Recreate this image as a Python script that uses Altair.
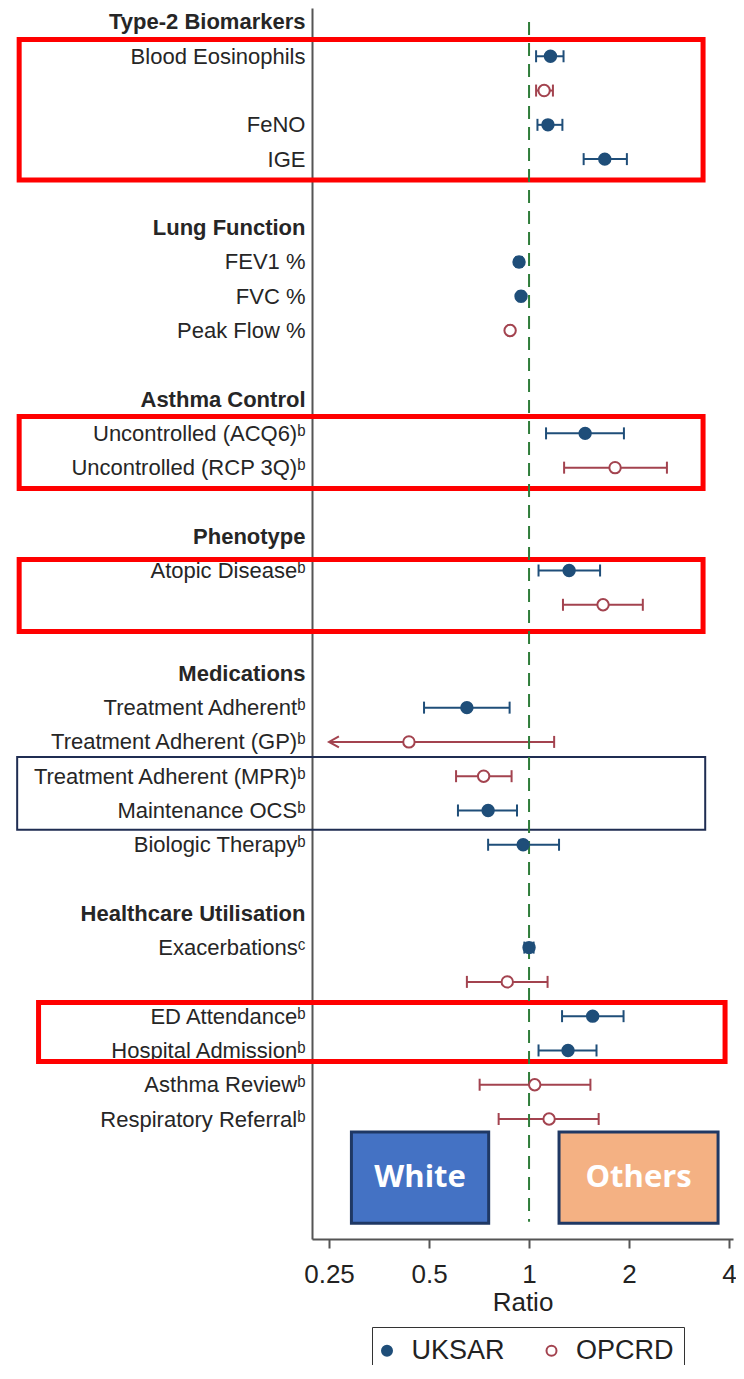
import altair as alt
import pandas as pd

# ---------------- data ----------------
row_labels = [
    "Type-2 Biomarkers", "Blood Eosinophils", "", "FeNO", "IGE", "",
    "Lung Function", "FEV1 %", "FVC %", "Peak Flow %", "",
    "Asthma Control", "Uncontrolled (ACQ6)", "Uncontrolled (RCP 3Q)", "",
    "Phenotype", "Atopic Disease", "", "",
    "Medications", "Treatment Adherent", "Treatment Adherent (GP)",
    "Treatment Adherent (MPR)", "Maintenance OCS", "Biologic Therapy", "",
    "Healthcare Utilisation", "Exacerbations", "", "ED Attendance",
    "Hospital Admission", "Asthma Review", "Respiratory Referral",
]
row_sup = [
    "", "", "", "", "", "",
    "", "", "", "", "",
    "", "b", "b", "",
    "", "b", "", "",
    "", "b", "b", "b", "b", "b", "",
    "", "c", "", "b", "b", "b", "b",
]
header_rows = [0, 6, 11, 15, 19, 26]

sources = ["UKSAR", "OPCRD"]

uksar_rows = [1, 3, 4, 7, 8, 12, 16, 20, 23, 24, 27, 29, 30]
uksar_est = [1.16, 1.14, 1.69, 0.933, 0.946, 1.475, 1.32, 0.65, 0.753, 0.96, 1.00, 1.554, 1.31]
uksar_lo = [1.05, 1.06, 1.46, 0.915, 0.93, 1.125, 1.068, 0.483, 0.611, 0.753, 0.968, 1.257, 1.068]
uksar_hi = [1.27, 1.26, 1.97, 0.952, 0.962, 1.93, 1.636, 0.874, 0.92, 1.231, 1.032, 1.925, 1.596]

opcrd_rows = [2, 9, 13, 17, 21, 22, 28, 31, 32]
opcrd_est = [1.11, 0.877, 1.815, 1.67, 0.435, 0.73, 0.86, 1.04, 1.149]
opcrd_lo = [1.05, 0.865, 1.275, 1.265, 0.25, 0.603, 0.65, 0.71, 0.81]
opcrd_hi = [1.18, 0.89, 2.60, 2.20, 1.19, 0.886, 1.137, 1.53, 1.62]
opcrd_arrow = [False, False, False, False, True, False, False, False, False]

x_ticks = [0.25, 0.5, 1, 2, 4]

# ---------------- tables ----------------
pts = pd.concat([
    pd.DataFrame({"source": "UKSAR", "row": uksar_rows, "est": uksar_est,
                  "lo": uksar_lo, "hi": uksar_hi, "arrow": False}),
    pd.DataFrame({"source": "OPCRD", "row": opcrd_rows, "est": opcrd_est,
                  "lo": opcrd_lo, "hi": opcrd_hi, "arrow": opcrd_arrow}),
], ignore_index=True)

caps = pd.concat([
    pts[~pts["arrow"]][["source", "row", "lo"]].rename(columns={"lo": "cx"}),
    pts[["source", "row", "hi"]].rename(columns={"hi": "cx"}),
], ignore_index=True)
arrows = pts[pts["arrow"]]

ref_line = pd.DataFrame({"v": [1.0], "r0": [0.0], "r1": [35.0]})

# annotation boxes (in data units: ratio on x, row index on y)
red_boxes = pd.DataFrame({
    "x0": [0.0292, 0.0292, 0.0292, 0.0334],
    "x1": [3.34, 3.34, 3.34, 3.89],
    "y0": [0.51, 11.51, 15.68, 28.60],
    "y1": [4.61, 13.61, 17.78, 30.32],
})
blue_box = pd.DataFrame({"x0": [0.0288], "x1": [3.39], "y0": [21.44], "y1": [23.56]})
group_boxes = pd.DataFrame({
    "name": ["White", "Others"],
    "x0": [0.292, 1.231], "x1": [0.756, 3.706],
    "y0": [32.38, 32.38], "y1": [35.04, 35.04],
    "xc": [0.470, 2.136], "yc": [33.72, 33.72],
})

# ---------------- styling ----------------
FONT = "Liberation Sans"
NAVY = "#1f4e79"
MAROON = "#a3434f"
GREEN = "#2f7d3a"

sup_chars = {"b": "\u1d47", "c": "\u1d9c"}
label_rows = [i for i, t in enumerate(row_labels) if t]
labels_js = "[" + ",".join(
    "'" + t + sup_chars.get(s, "") + "'" for t, s in zip(row_labels, row_sup)
) + "]"
bold_test = " || ".join(f"datum.value == {r}" for r in header_rows)

X_SCALE = alt.Scale(type="log", base=2, domain=[0.2222, 4.11], nice=False)
Y_SCALE = alt.Scale(domain=[-0.408, 35.5], reverse=True, nice=False, zero=False)

x_axis = alt.Axis(
    values=x_ticks, format="~g", title="Ratio", grid=False,
    domainColor="#555555", domainWidth=2, tickColor="#555555", tickWidth=2,
    tickSize=9, labelFontSize=26, labelFont=FONT, labelColor="#222222",
    labelPadding=13, labelFlush=False, labelOverlap=False,
    titleFontSize=26, titleFont=FONT, titleFontWeight="normal",
    titleColor="#222222", titlePadding=2,
)
y_axis = alt.Axis(
    values=label_rows, labelExpr=labels_js + "[datum.value]", ticks=False,
    grid=False, domainColor="#555555", domainWidth=2, labelFontSize=22,
    labelFont=FONT, labelColor="#262626", labelPadding=7, labelLimit=400,
    labelOverlap=False, labelBaseline="middle", labelAlign="right",
    labelFontWeight={"condition": {"test": bold_test, "value": "bold"}, "value": "normal"},
    title=None,
)


def X(f):
    return alt.X(f"{f}:Q", scale=X_SCALE, axis=x_axis)


def Y(f):
    return alt.Y(f"{f}:Q", scale=Y_SCALE, axis=y_axis)


# legend scales (stroke / fill) and line colour scale use different domain orders
# so Vega-Lite does not fold the legend into the hidden colour legend
legend_stroke = alt.Scale(domain=sources, range=[NAVY, MAROON])
legend_fill = alt.Scale(domain=sources, range=[NAVY, "#ffffff"])
line_color = alt.Scale(domain=sources[::-1], range=[MAROON, NAVY])

# ---------------- layers ----------------
red = alt.Chart(red_boxes).mark_rect(filled=False, color="#ff0000", strokeWidth=5).encode(
    x=X("x0"), x2="x1", y=Y("y0"), y2="y1")
blue = alt.Chart(blue_box).mark_rect(filled=False, color="#1f2d52", strokeWidth=2).encode(
    x=X("x0"), x2="x1", y=Y("y0"), y2="y1")

white_box = alt.Chart(group_boxes).transform_filter("datum.name == 'White'").mark_rect(
    fill="#4472c4", stroke="#1f3864", strokeWidth=3).encode(
    x=X("x0"), x2="x1", y=Y("y0"), y2="y1")
others_box = alt.Chart(group_boxes).transform_filter("datum.name == 'Others'").mark_rect(
    fill="#f4b183", stroke="#1f3864", strokeWidth=3).encode(
    x=X("x0"), x2="x1", y=Y("y0"), y2="y1")
group_text = alt.Chart(group_boxes).mark_text(
    font="Open Sans", fontWeight="bold", fontSize=31, color="white", baseline="middle",
    align="center").encode(x=X("xc"), y=Y("yc"), text="name:N")

ci = alt.Chart(pts).mark_rule(strokeWidth=2).encode(
    x=X("lo"), x2="hi", y=Y("row"),
    color=alt.Color("source:N", scale=line_color, legend=None))
cap = alt.Chart(caps).mark_tick(orient="vertical", size=12, thickness=2, opacity=1).encode(
    x=X("cx"), y=Y("row"),
    color=alt.Color("source:N", scale=line_color, legend=None))
dash = alt.Chart(ref_line).mark_rule(color=GREEN, strokeWidth=2, strokeDash=[13, 8]).encode(
    x=X("v"), y=Y("r0"), y2="r1")
arrow = alt.Chart(arrows).mark_point(
    shape="M 1.8 -1 L 0 0 L 1.8 1", size=121, strokeWidth=2, filled=False, opacity=1).encode(
    x=X("lo"), y=Y("row"),
    color=alt.Color("source:N", scale=line_color, legend=None))

leg = alt.Legend(
    title=None, orient="none", legendX=60, legendY=1319, direction="horizontal",
    labelFontSize=27, labelFont=FONT, labelColor="#222222", symbolType="circle",
    symbolSize=100, symbolStrokeWidth=2, symbolOffset=-8.5, labelOffset=11,
    columnPadding=37.5, padding=10, strokeColor="#333333",
)
points = alt.Chart(pts).mark_point(size=130, strokeWidth=2, opacity=1).encode(
    x=X("est"), y=Y("row"),
    stroke=alt.Stroke("source:N", scale=legend_stroke, legend=leg),
    fill=alt.Fill("source:N", scale=legend_fill, legend=leg),
)

chart = alt.layer(
    red, blue, white_box, others_box, group_text, ci, cap, dash, arrow, points
).properties(
    width=421, height=1231,
    padding={"left": 304, "top": 0, "right": 3, "bottom": 126},
    autosize=alt.AutoSizeParams(type="none"),
).configure_view(strokeWidth=0)

chart.save("out.html", embed_options={"renderer": "svg", "actions": False})
